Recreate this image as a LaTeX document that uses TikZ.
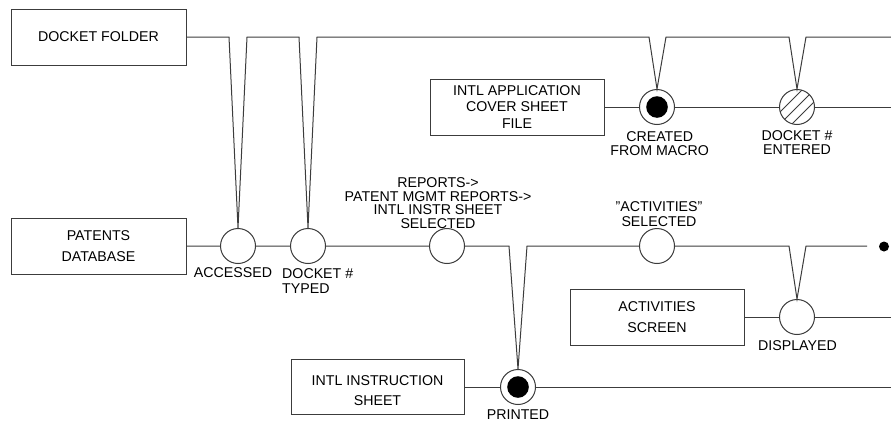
\documentclass[tikz,border=0pt]{standalone}
\usepackage{fontspec}
\setmainfont{Liberation Sans}
\newcommand\myfs[1]{\fontsize{14.2}{#1}\selectfont}
\definecolor{linec}{HTML}{3C3C3C}
\begin{document}
\begin{tikzpicture}[x=1pt,y=-1pt,
  conn/.style={draw=linec, line width=1pt},
  box/.style={draw=linec, line width=1pt, rectangle, minimum width=175pt, minimum height=56pt, inner sep=0pt, align=center, font=\myfs{14}},
  state/.style={draw=linec, line width=1pt, fill=white, circle, minimum size=35pt, inner sep=0pt},
  filledstate/.style={state, path picture={\fill[black] (path picture bounding box.center) circle[radius=10.8pt];}},
  hatchstate/.style={state, path picture={\foreach \d in {-8.5,0,8.5}
      \draw[linec, line width=0.8pt, shift={(path picture bounding box.center)}] (\d*0.707-20, \d*0.707+20) -- (\d*0.707+20, \d*0.707-20);}},
  lbl/.style={inner sep=0pt, align=center, font=\myfs{14}}]
\useasboundingbox (0,0) rectangle (891,421);
\fill[white] (0,0) rectangle (891,421);

% boxes
\node[box] (folder) at (98.5,37) {DOCKET FOLDER};
\node[box, font=\myfs{21.5}] (patents) at (98.5,246) {PATENTS\\DATABASE};
\node[box, minimum width=174pt, font=\myfs{16.7}] (intlapp) at (517,107) {INTL APPLICATION\\COVER SHEET\\FILE};
\node[box, minimum width=174pt, font=\myfs{21}] (actscreen) at (657,317) {ACTIVITIES\\SCREEN};
\node[box, minimum width=173pt, minimum height=55pt, font=\myfs{20.2}, text height=37pt] (instr) at (377.5,387) {INTL INSTRUCTION\\SHEET};

% states
\node[state] (acc) at (238,246) {};
\node[state] (typed) at (308,246) {};
\node[state] (rep) at (447,246) {};
\node[state] (act) at (657,246) {};
\node[state] (disp) at (797,317) {};
\node[filledstate] (printed) at (518,387) {};
\node[filledstate] (created) at (657,107) {};
\node[hatchstate] (entered) at (797,107) {};
\node[circle, fill=black, minimum size=10pt, inner sep=0pt] (enddot) at (884,246.5) {};

% connectors
\draw[conn] (folder) -- (229,37) -- (acc.north) -- (247,37) -- (299,37) -- (typed.north) -- (317,37)
  -- (649,37) -- (created.north) -- (666,37) -- (789,37) -- (entered.north) -- (806,37) -- (891,37);
\draw[conn] (patents) -- (acc) -- (typed) -- (rep) -- (509,246) -- (printed.north) -- (527,246)
  -- (act) -- (789,246) -- (disp.north) -- (806,246) -- (867,246);
\draw[conn] (intlapp) -- (created) -- (entered) -- (891,107);
\draw[conn] (actscreen) -- (disp) -- (891,317);
\draw[conn] (instr) -- (printed) -- (891,387);

% labels
\node[lbl] (laccessed) at (233,273) {ACCESSED};
\node[lbl, align=left, anchor=west, font=\myfs{14.9}] (ltyped) at (282,281.2) {DOCKET \#\\TYPED};
\node[lbl, font=\myfs{13.8}] (lreports) at (438,203.2) {REPORTS->\\PATENT MGMT REPORTS->\\INTL INSTR SHEET\\SELECTED};
\node[lbl, font=\myfs{15}] (lact) at (659,214.5) {"ACTIVITIES"\\SELECTED};
\node[lbl, font=\myfs{14.3}] (lcreated) at (659.7,143.3) {CREATED\\FROM MACRO};
\node[lbl, font=\myfs{14}] (lentered) at (797,143) {DOCKET \#\\ENTERED};
\node[lbl] (ldisp) at (797.5,346) {DISPLAYED};
\node[lbl] (lprinted) at (518,414.7) {PRINTED};
\end{tikzpicture}
\end{document}
